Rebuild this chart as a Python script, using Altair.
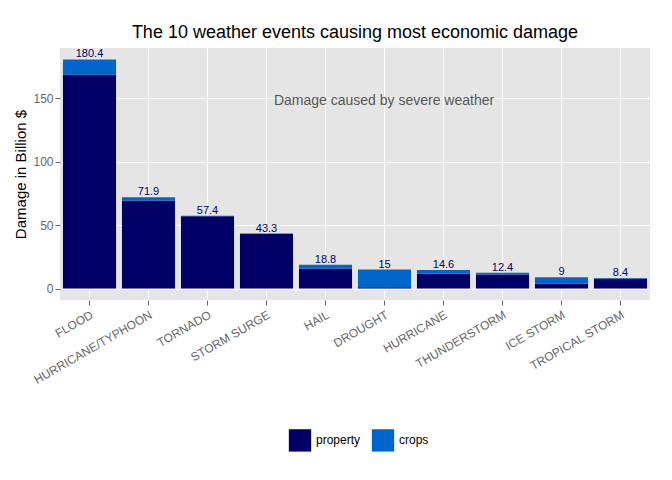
import altair as alt
import pandas as pd

events = ["FLOOD", "HURRICANE/TYPHOON", "TORNADO", "STORM SURGE", "HAIL",
          "DROUGHT", "HURRICANE", "THUNDERSTORM", "ICE STORM", "TROPICAL STORM"]
totals = [180.4, 71.9, 57.4, 43.3, 18.8, 15, 14.6, 12.4, 9, 8.4]
crops = [11.8, 2.6, 0.5, 0.1, 3.0, 14.0, 2.9, 1.3, 5.0, 0.7]
prop = [round(t - c, 1) for t, c in zip(totals, crops)]

rows = []
for e, p, c in zip(events, prop, crops):
    rows.append({"event": e, "type": "property", "damage": p, "ord": 0})
    rows.append({"event": e, "type": "crops", "damage": c, "ord": 1})
df = pd.DataFrame(rows)
tot = pd.DataFrame({"event": events, "total": totals,
                    "label": [f"{t:g}" for t in totals]})

font = "Liberation Sans"
xenc = alt.X("event:N", sort=events, title=None,
             scale=alt.Scale(paddingInner=0.1, paddingOuter=0.05),
             axis=alt.Axis(labelAngle=-30, labelAlign="right", labelColor="#666666",
                           labelFontSize=12, tickColor="#666666", domain=False,
                           grid=True, gridColor="white", labelPadding=4))
yscale = alt.Scale(domain=[-9, 189.4], nice=False, zero=False)

bars = alt.Chart(df).mark_bar().encode(
    x=xenc,
    y=alt.Y("damage:Q", stack="zero", scale=yscale,
            title="Damage in Billion $",
            axis=alt.Axis(values=[0, 50, 100, 150], labelColor="#666666",
                          labelFontSize=12, titleFontSize=15, titleFontWeight="normal",
                          titleColor="black", tickColor="#666666", domain=False,
                          gridColor="white")),
    color=alt.Color("type:N", sort=["property", "crops"],
                    scale=alt.Scale(domain=["property", "crops"],
                                    range=["#000066", "#0066cc"]),
                    legend=alt.Legend(title=None, orient="none", direction="horizontal",
                                      legendX=228, legendY=380,
                                      symbolType="square",
                                      symbolSize=500, symbolOpacity=1, labelFontSize=12,
                                      labelColor="black")),
    order=alt.Order("ord:Q"),
)

labels = alt.Chart(tot).mark_text(dy=-5, fontSize=11, color="#000066", font=font).encode(
    x=alt.X("event:N", sort=events), y=alt.Y("total:Q", scale=yscale), text="label:N")

note = alt.Chart(pd.DataFrame({"t": ["Damage caused by severe weather"], "y": [148]})).mark_text(
    fontSize=14, color="#555555", font=font).encode(
    x=alt.value(324), y=alt.Y("y:Q", scale=yscale), text="t:N")

chart = alt.layer(bars, labels, note).properties(
    width=590, height=252,
    title=alt.Title("The 10 weather events causing most economic damage",
                    fontSize=18, fontWeight="normal", font=font, offset=6),
    padding={"top": 16, "left": 5, "right": 5, "bottom": 5},
).configure(font=font).configure_view(fill="#e5e5e5", stroke=None).configure_axis(
    labelFont=font, titleFont=font)

chart.save("out.html", embed_options={"renderer": "svg", "actions": False})
